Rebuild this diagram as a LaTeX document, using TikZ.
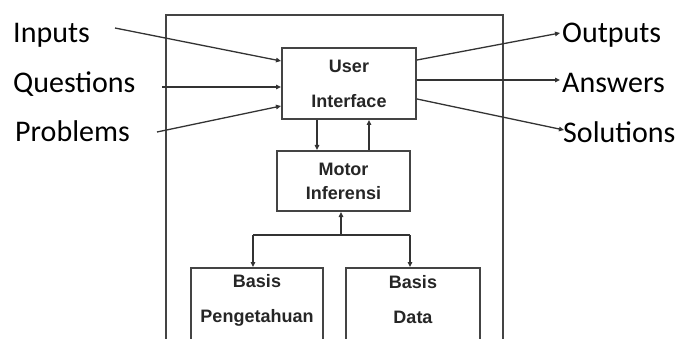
\documentclass[tikz,border=0pt]{standalone}
\usepackage{fontspec}
\setmainfont{Carlito}
\newfontfamily\boxfont{Liberation Sans}
\usetikzlibrary{arrows.meta}
\definecolor{linegray}{HTML}{333333}
\definecolor{framegray}{HTML}{444444}
\begin{document}
\begin{tikzpicture}[x=1pt,y=1pt,
  lbl/.style={font=\fontsize{30}{32}\selectfont, inner sep=0pt},
  blk/.style={draw=framegray, line width=2pt, fill=white, inner sep=0pt},
  btxt/.style={font=\boxfont\bfseries\fontsize{18}{24}\selectfont, align=center, inner sep=0pt, text=black!85},
  arr/.style={draw=linegray, line width=1.3pt, -{Triangle[length=5pt,width=4.5pt]}},
  ln/.style={draw=linegray, line width=1.3pt}]
\useasboundingbox (0,0) rectangle (678,338);
% outer frame
\draw[framegray, line width=2pt] (166,-5) -- (166,323) -- (503,323) -- (503,-5);
% boxes
\node[blk, minimum width=134pt, minimum height=71pt] (ui) at (349,254.5) {};
\node[btxt] (uit) at (ui.center) {User\\[11pt]Interface};
\node[blk, minimum width=133pt, minimum height=60pt] (mi) at (343.5,157) {};
\node[btxt] (mit) at (mi.center) {Motor\\Inferensi};
\node[blk, minimum width=132pt, minimum height=90pt, anchor=north] (bp) at (257,71) {};
\node[btxt] (bpt) at (257,38) {Basis\\[11pt]Pengetahuan};
\node[blk, minimum width=134pt, minimum height=90pt, anchor=north] (bd) at (413,71) {};
\node[btxt] (bdt) at (413,38) {Basis\\[11pt]Data};
% labels
\node[lbl, anchor=base west] (inp) at (13,295) {Inputs};
\node[lbl, anchor=base west] (que) at (13,245) {Questions};
\node[lbl, anchor=base west] (pro) at (15,196) {Problems};
\node[lbl, anchor=base west] (out) at (562,295) {Outputs};
\node[lbl, anchor=base west] (ans) at (562,245) {Answers};
\node[lbl, anchor=base west] (sol) at (563,195) {Solutions};
% connector ends
\coordinate (inS) at (115,310);
\coordinate (quS) at (162,251);
\coordinate (prS) at (157,206);
\coordinate (ouE) at (560,305);
\coordinate (anE) at (560,258);
\coordinate (soE) at (564,208);
\coordinate (jn) at (341,103);
\coordinate (jl) at (253,103);
\coordinate (jr) at (410,103);
% input arrows
\draw[arr] (inS) -- (ui.west |- 0,277);
\draw[arr] (quS) -- (ui.west |- 0,251);
\draw[arr] (prS) -- (ui.west |- 0,232);
% output arrows
\draw[arr] (ui.east |- 0,278) -- (ouE);
\draw[arr] (ui.east |- 0,258) -- (anE);
\draw[arr] (ui.east |- 0,239) -- (soE);
% UI <-> Motor
\draw[arr] (ui.south -| 317,0) -- (mi.north -| 317,0);
\draw[arr] (mi.north -| 369,0) -- (ui.south -| 369,0);
% Motor <-> bases
\draw[arr] (jn) -- (mi.south -| jn);
\draw[ln] (jl) -- (jr);
\draw[arr] (jl) -- (bp.north -| jl);
\draw[arr] (jr) -- (bd.north -| jr);
\end{tikzpicture}
\end{document}
